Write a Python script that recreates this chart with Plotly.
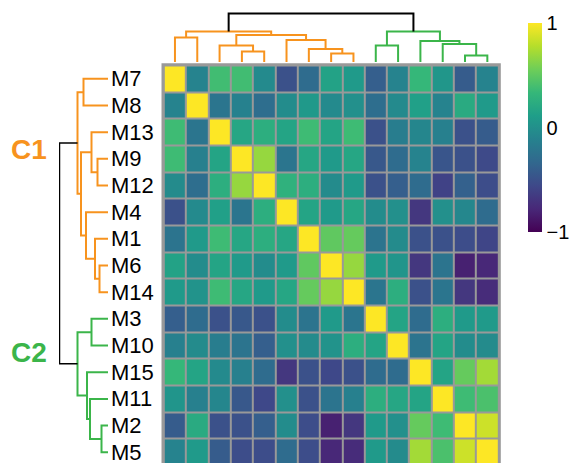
import plotly.graph_objects as go

W, H = 572, 463

labels = ["M7", "M8", "M13", "M9", "M12", "M4", "M1", "M6", "M14",
          "M3", "M10", "M15", "M11", "M2", "M5"]
cluster_of_leaf = ["C1"] * 9 + ["C2"] * 6

corr = [
    [1.00, -0.10, 0.38, 0.38, -0.05, -0.50, -0.30, 0.15, 0.08, -0.40, -0.10, 0.33, 0.05, -0.42, -0.10],
    [-0.10, 1.00, -0.22, -0.12, -0.28, -0.03, 0.07, -0.05, 0.00, -0.28, -0.05, 0.13, -0.10, 0.22, 0.08],
    [0.37, -0.22, 1.00, 0.18, 0.25, 0.16, 0.37, 0.16, 0.37, -0.50, -0.15, -0.08, -0.13, -0.50, -0.42],
    [0.37, -0.13, 0.16, 1.00, 0.68, -0.22, 0.18, 0.08, 0.18, -0.45, -0.30, -0.10, -0.47, -0.50, -0.55],
    [-0.04, -0.28, 0.25, 0.68, 1.00, 0.28, 0.25, -0.04, 0.08, -0.50, -0.40, -0.30, -0.60, -0.38, -0.53],
    [-0.50, -0.05, 0.13, -0.22, 0.25, 1.00, 0.16, 0.08, 0.18, -0.03, 0.00, -0.68, 0.00, -0.07, -0.30],
    [-0.23, 0.08, 0.37, 0.18, 0.25, 0.18, 1.00, 0.50, 0.52, -0.23, -0.04, -0.50, -0.50, -0.53, -0.58],
    [0.15, -0.03, 0.16, 0.08, -0.03, 0.08, 0.50, 1.00, 0.68, 0.08, 0.04, -0.68, -0.23, -0.82, -0.78],
    [0.08, 0.02, 0.37, 0.18, 0.08, 0.18, 0.52, 0.68, 1.00, -0.22, 0.25, -0.50, -0.22, -0.68, -0.75],
    [-0.40, -0.30, -0.50, -0.45, -0.50, -0.03, -0.23, 0.08, -0.22, 1.00, 0.16, -0.30, 0.25, 0.08, 0.08],
    [-0.13, -0.04, -0.15, -0.23, -0.40, 0.00, -0.04, 0.02, 0.25, 0.16, 1.00, -0.23, 0.16, -0.03, -0.04],
    [0.33, 0.16, -0.05, -0.13, -0.30, -0.68, -0.50, -0.56, -0.50, -0.30, -0.30, 1.00, 0.16, 0.52, 0.72],
    [0.04, -0.13, -0.08, -0.45, -0.56, 0.00, -0.50, -0.23, -0.13, 0.25, 0.18, 0.16, 1.00, 0.37, 0.42],
    [-0.42, 0.22, -0.50, -0.50, -0.40, -0.03, -0.53, -0.82, -0.68, 0.08, 0.00, 0.52, 0.37, 1.00, 0.85],
    [-0.10, 0.08, -0.42, -0.53, -0.53, -0.30, -0.53, -0.78, -0.75, 0.08, -0.04, 0.72, 0.42, 0.85, 1.00],
]

# dendrogram merges (child_a, child_b, height); new node ids start at 15
merges = [
    (0, 1, 24.5),    # 15
    (3, 4, 10.5),    # 16
    (2, 16, 16.5),   # 17
    (7, 8, 8.5),     # 18
    (6, 18, 13.0),   # 19
    (5, 19, 22.0),   # 20
    (17, 20, 27.0),  # 21
    (15, 21, 30.5),  # 22  C1
    (9, 10, 16.5),   # 23
    (13, 14, 6.5),   # 24
    (12, 24, 18.0),  # 25
    (11, 25, 21.0),  # 26
    (23, 26, 30.5),  # 27  C2
    (22, 27, 48.5),  # 28  root
]

cluster_colors = {"C1": "#F7931E", "C2": "#3BB54A"}
cluster_label_pos = {"C1": 149, "C2": 352}

n = len(labels)
pos = {i: float(i) for i in range(n)}
hgt = {i: 0.0 for i in range(n)}
members = {i: {cluster_of_leaf[i]} for i in range(n)}
segments = {}  # color -> list of (pos list, height list)
for k, (a, b, h) in enumerate(merges):
    node = n + k
    pos[node] = (pos[a] + pos[b]) / 2
    hgt[node] = h
    members[node] = members[a] | members[b]
    col = cluster_colors[next(iter(members[node]))] if len(members[node]) == 1 else "black"
    segments.setdefault(col, ([], []))
    p, hh = segments[col]
    p += [pos[a], pos[a], pos[b], pos[b], None]
    hh += [hgt[a], h, h, hgt[b], None]


def px_x(v):
    return v / W


def px_y(v):
    return 1 - v / H


fig = go.Figure()

fig.add_trace(go.Heatmap(
    z=corr, x=list(range(n)), y=list(range(n)),
    zmin=-1, zmax=1, colorscale="Viridis", xgap=2, ygap=2,
    hoverinfo="skip",
    colorbar=dict(
        thickness=14, thicknessmode="pixels", len=209, lenmode="pixels",
        x=px_x(528), xanchor="left", y=px_y(127.5), yanchor="middle",
        xpad=0, ypad=0, outlinewidth=0, ticks="",
        tickvals=[-1, 0, 1], ticktext=["\u22121", "0", "1"],
        tickfont=dict(size=20, color="black", family="Liberation Sans, Arial, sans-serif"),
    ),
))

for col, (p, hh) in segments.items():
    lw = 2
    # top dendrogram
    fig.add_trace(go.Scatter(x=p, y=hh, mode="lines", xaxis="x3", yaxis="y3",
                             line=dict(color=col, width=lw), hoverinfo="skip"))
    # left dendrogram
    fig.add_trace(go.Scatter(x=hh, y=p, mode="lines", xaxis="x2", yaxis="y2",
                             line=dict(color=col, width=1.5 if col == "black" else lw),
                             hoverinfo="skip"))

row_pitch = 26.67
y_top_px = 65.5
y_range_bottom = -0.5 + (H - y_top_px) / row_pitch
hx_dom = [px_x(163.8), px_x(498.5)]
hy_dom = [0, px_y(y_top_px)]

ax_off = dict(visible=False, showgrid=False, zeroline=False, fixedrange=True)
fig.update_layout(
    width=W, height=H, margin=dict(l=0, r=0, t=0, b=0),
    paper_bgcolor="white", plot_bgcolor="rgba(0,0,0,0)", showlegend=False,
    font=dict(family="Liberation Sans, Arial, sans-serif", color="black"),
    xaxis=dict(domain=hx_dom, range=[-0.5, n - 0.5], anchor="y", **ax_off),
    yaxis=dict(domain=hy_dom, range=[y_range_bottom, -0.5], anchor="x", **ax_off),
    xaxis2=dict(domain=[px_x(59), px_x(108)], range=[49, 0], anchor="y2", **ax_off),
    yaxis2=dict(domain=hy_dom, range=[y_range_bottom, -0.5], anchor="x2", **ax_off),
    xaxis3=dict(domain=hx_dom, range=[-0.5, n - 0.5], anchor="y3", **ax_off),
    yaxis3=dict(domain=[px_y(62), px_y(12)], range=[0, 50], anchor="x3", **ax_off),
    shapes=[dict(type="rect", xref="paper", yref="paper", layer="below",
                 x0=px_x(161.5), x1=px_x(500.8), y0=-0.01, y1=px_y(63.3),
                 fillcolor="#999999", line=dict(width=0))],
)

for i, lab in enumerate(labels):
    fig.add_annotation(x=px_x(109), xref="paper", xanchor="left",
                       y=i, yref="y", yanchor="middle", text=lab, showarrow=False,
                       font=dict(size=22, color="black"))

for c, yc in cluster_label_pos.items():
    fig.add_annotation(x=px_x(9), xref="paper", xanchor="left",
                       y=px_y(yc), yref="paper", yanchor="middle",
                       text="<b>%s</b>" % c, showarrow=False,
                       font=dict(size=28, color=cluster_colors[c]))

fig.write_html("out.html")
